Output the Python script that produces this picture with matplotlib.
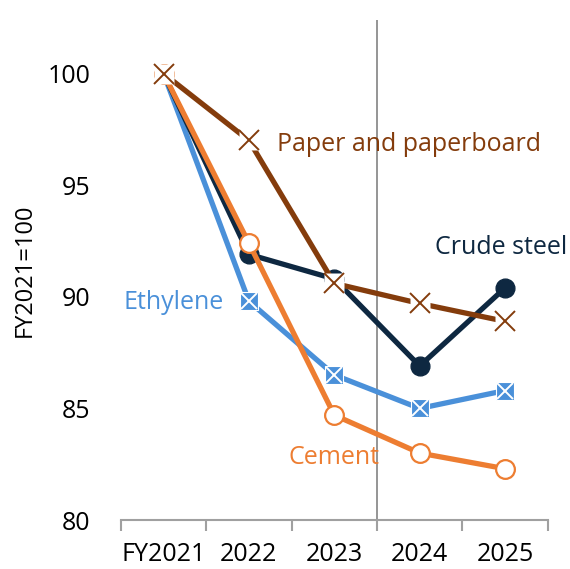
import matplotlib
matplotlib.use("Agg")
import matplotlib.pyplot as plt
import numpy as np

plt.rcParams['font.family'] = ['Open Sans', 'DejaVu Sans']

# Production index, FY2021 = 100
years = ['FY2021', '2022', '2023', '2024', '2025']
paper = [100, 97.0, 90.6, 89.7, 88.9]
crude_steel = [100, 91.9, 90.8, 86.9, 90.4]
ethylene = [100, 89.8, 86.5, 85.0, 85.8]
cement = [100, 92.4, 84.7, 83.0, 82.3]

c_paper = '#843C0C'
c_steel = '#0E2841'
c_ethyl = '#4A90D9'
c_cement = '#ED7D31'

fig = plt.figure(figsize=(5.7, 5.69), dpi=100)
ax = fig.add_axes([0.212, 0.086, 0.749, 0.879])
x = np.arange(len(years))

# ethylene: filled square with white cross
ax.plot(x, ethylene, color=c_ethyl, lw=3.8, marker='s', ms=13, mfc=c_ethyl,
        mec='white', mew=0.8, zorder=3)
ax.plot(x, ethylene, ls='none', marker='x', ms=11, mec='white', mew=1.4, zorder=3.1)

ax.plot(x, crude_steel, color=c_steel, lw=3.8, marker='o', ms=13.5,
        mfc=c_steel, mec=c_steel, zorder=4)

ax.plot(x, cement, color=c_cement, lw=3.8, marker='o', ms=13.5,
        mfc='white', mec=c_cement, mew=1.6, zorder=5)

ax.plot(x, paper, color=c_paper, lw=3.8, zorder=6)
ax.plot(x, paper, ls='none', marker='s', ms=14, mfc='white', mec='none', zorder=6.1)
ax.plot(x, paper, ls='none', marker='x', ms=14, mec=c_paper, mew=1.4, zorder=6.2)

ax.set_xlim(-0.5, len(years) - 0.5)
ax.set_ylim(80, 102.4)
ax.set_yticks([80, 85, 90, 95, 100])
ax.set_xticks(x)
ax.set_xticklabels(years)
ax.set_xticks(np.arange(-0.5, len(years)), minor=True)
ax.tick_params(axis='x', which='major', length=0, pad=16, labelsize=18)
ax.tick_params(axis='x', which='minor', length=8, width=1.5, color='#A0A0A0',
               direction='out')
ax.tick_params(axis='y', length=0, pad=22, labelsize=18)

for s in ['top', 'right', 'left']:
    ax.spines[s].set_visible(False)
ax.spines['bottom'].set_color('#A0A0A0')
ax.spines['bottom'].set_linewidth(1.5)

ax.axvline(2.5, color='#8C8C8C', lw=1.3, zorder=1)

ax.set_ylabel('FY2021=100', fontsize=17, labelpad=8)

ax.text(1.33, 96.8, 'Paper and paperboard', color=c_paper, fontsize=18,
        va='center', ha='left')
ax.text(3.95, 92.2, 'Crude steel', color=c_steel, fontsize=18,
        va='center', ha='center')
ax.text(0.12, ethylene[1] - 0.05, 'Ethylene', color=c_ethyl, fontsize=18,
        va='center', ha='center')
ax.text(2.0, 82.8, 'Cement', color=c_cement, fontsize=18,
        va='center', ha='center')

fig.savefig('out.png', dpi=100)
